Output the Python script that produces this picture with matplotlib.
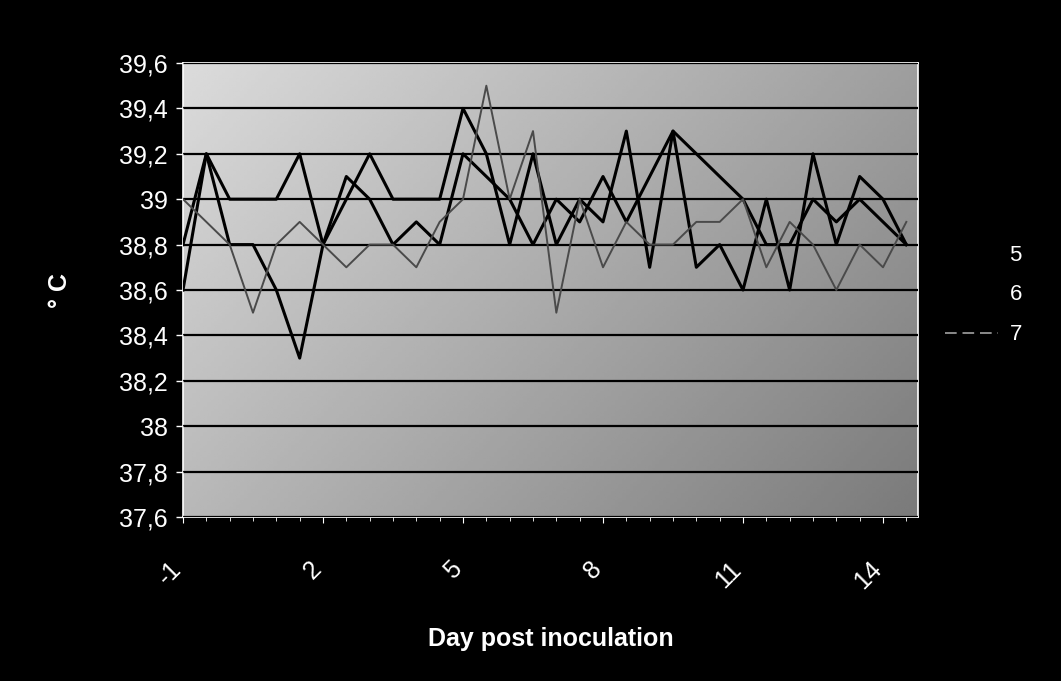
import numpy as np
import matplotlib
matplotlib.use("Agg")
import matplotlib.pyplot as plt
from matplotlib.lines import Line2D
from matplotlib.colors import LinearSegmentedColormap
from matplotlib.transforms import ScaledTranslation

plt.rcParams['font.family'] = ['Liberation Sans', 'DejaVu Sans']

# two readings per day, from day -1 to day 14
day_labels = [d for d in range(-1, 15) for _ in range(2)]

series_names = ["5", "6", "7"]
temp_5 = [38.6, 39.2, 39.0, 39.0, 39.0, 39.2, 38.8, 39.0, 39.2, 39.0, 39.0, 39.0,
          39.4, 39.2, 38.8, 39.2, 38.8, 39.0, 38.9, 39.3, 38.7, 39.3, 38.7, 38.8,
          38.6, 39.0, 38.6, 39.2, 38.8, 39.1, 39.0, 38.8]
temp_6 = [38.8, 39.2, 38.8, 38.8, 38.6, 38.3, 38.8, 39.1, 39.0, 38.8, 38.9, 38.8,
          39.2, 39.1, 39.0, 38.8, 39.0, 38.9, 39.1, 38.9, 39.1, 39.3, 39.2, 39.1,
          39.0, 38.8, 38.8, 39.0, 38.9, 39.0, 38.9, 38.8]
temp_7 = [39.0, 38.9, 38.8, 38.5, 38.8, 38.9, 38.8, 38.7, 38.8, 38.8, 38.7, 38.9,
          39.0, 39.5, 39.0, 39.3, 38.5, 39.0, 38.7, 38.9, 38.8, 38.8, 38.9, 38.9,
          39.0, 38.7, 38.9, 38.8, 38.6, 38.8, 38.7, 38.9]

y_ticks = [37.6, 37.8, 38.0, 38.2, 38.4, 38.6, 38.8, 39.0, 39.2, 39.4, 39.6]
y_ticklabels = ["37,6", "37,8", "38", "38,2", "38,4", "38,6", "38,8", "39", "39,2", "39,4", "39,6"]

fig = plt.figure(figsize=(10.61, 6.81), dpi=100, facecolor="black")
ax = fig.add_axes([183/1061, 1-517/681, (918-183)/1061, (517-63)/681])
ax.set_facecolor("#c0c0c0")

# shaded background of the plot area (lighter upper-left, darker lower-right)
gx, gy = np.meshgrid(np.linspace(0, 1, 200), np.linspace(0, 1, 200))
shade = 0.86 - 0.24 * gx - 0.14 * (1 - gy)
cmap = LinearSegmentedColormap.from_list("g", ["#000000", "#ffffff"])
ax.imshow(shade, extent=(0, 1, 0, 1), transform=ax.transAxes, cmap=cmap,
          vmin=0, vmax=1, aspect="auto", zorder=0, origin="lower")

x = np.arange(len(day_labels))
ax.plot(x, temp_5, color="black", lw=2.2, zorder=3, label=series_names[0])
ax.plot(x, temp_6, color="black", lw=2.2, zorder=3, label=series_names[1])
ax.plot(x, temp_7, color="#4a4a4a", lw=1.4, zorder=3, label=series_names[2])

ax.set_xlim(0, 31.5)
ax.set_ylim(37.6, 39.6)
ax.set_yticks(y_ticks)
ax.set_yticklabels(y_ticklabels)
ax.yaxis.grid(True, color="black", lw=1.6, zorder=1)
ax.set_axisbelow(False)
for gl in ax.get_ygridlines():
    gl.set_zorder(1)

ax.set_xticks(x[::6])
ax.set_xticklabels([str(d) for d in day_labels[::6]], rotation=45, ha="right",
                   rotation_mode="anchor")
ax.set_xticks(x, minor=True)

ax.tick_params(axis="y", colors="white", labelsize=18, length=5, width=1, pad=6)
ax.tick_params(axis="x", which="major", colors="white", labelsize=18, length=4, pad=22)
ax.tick_params(axis="x", which="minor", colors="white", length=3)
shift = ScaledTranslation(-14/100, -4/100, fig.dpi_scale_trans)
for lab in ax.get_xticklabels():
    lab.set_transform(lab.get_transform() + shift)
for s in ax.spines.values():
    s.set_color("white")
    s.set_linewidth(1.2)

ax.set_xlabel("Day post inoculation", color="white", fontsize=18,
              fontweight="bold", labelpad=24)
fig.text(60/1061, 1-290/681, "° C", color="white", fontsize=18, fontweight="bold",
         rotation=90, ha="center", va="center")

handles = [Line2D([], [], color="black", lw=2.2),
           Line2D([], [], color="black", lw=2.2),
           Line2D([], [], color="#8a8a8a", lw=1.4, ls=(0, (6, 3)))]
fig.legend(handles, series_names, loc="center left",
           bbox_to_anchor=(925/1061, 1-295/681), frameon=False, fontsize=16,
           labelcolor="white", handlelength=2.4, labelspacing=0.85,
           handletextpad=0.5, borderpad=0.4)

fig.savefig("out.png", dpi=100, facecolor="black")
